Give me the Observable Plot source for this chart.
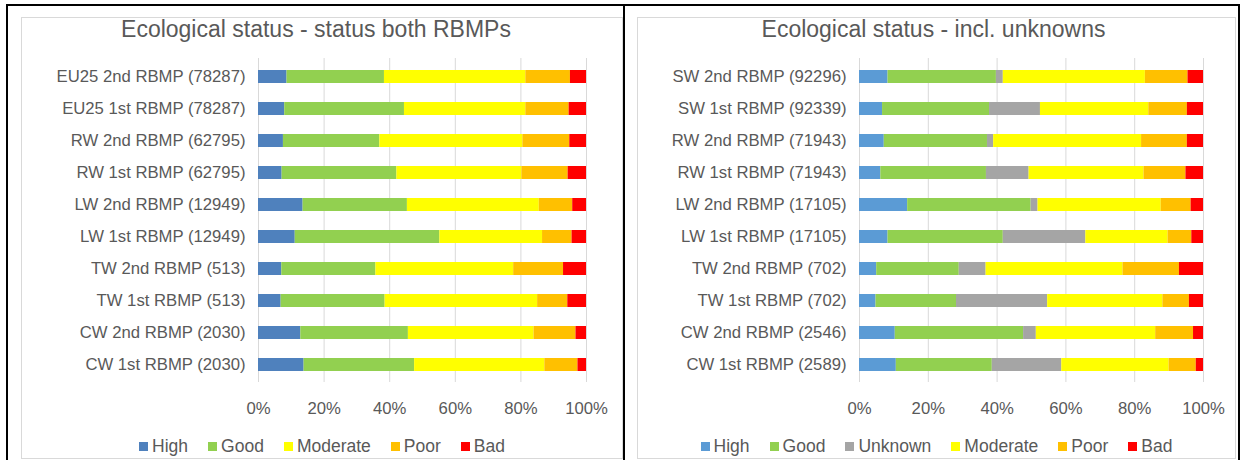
<!DOCTYPE html>
<html>
<head>
<meta charset="utf-8">
<script src="https://cdn.jsdelivr.net/npm/d3@7"></script>
<script src="https://cdn.jsdelivr.net/npm/@observablehq/plot@0.6"></script>
<style>
  html, body { margin: 0; padding: 0; background: #fff; }
  #page { position: relative; width: 1240px; height: 460px; overflow: hidden; font-family: "Liberation Sans", Arial, sans-serif; }
  .bl { position: absolute; background: #000; }
  .panel { position: absolute; border: 1px solid #d9d9d9; box-sizing: border-box; }
  .title { position: absolute; font-size: 23px; color: #595959; text-align: center; white-space: nowrap; }
  .legend { position: absolute; display: flex; justify-content: center; font-size: 17.5px; color: #595959; white-space: nowrap; }
  .legend .it { display: flex; align-items: center; margin: 0 10px; }
  .legend .sw { width: 9px; height: 9px; margin-right: 4px; }
  .chart { position: absolute; }
</style>
</head>
<body>
<div id="page">
  <div class="panel" style="left:21px; top:17px; width:602px; height:442px;"></div>
  <div class="panel" style="left:637px; top:17px; width:599px; height:442px;"></div>
  <div class="bl" style="left:6px; top:4px; width:1234px; height:2px;"></div>
  <div class="bl" style="left:6px; top:4px; width:2px; height:456px;"></div>
  <div class="bl" style="left:623px; top:4px; width:2px; height:456px;"></div>
  <div class="bl" style="left:1238px; top:4px; width:2px; height:456px;"></div>
  <div class="title" style="left:15px; width:602px; top:16px;">Ecological status - status both RBMPs</div>
  <div class="title" style="left:634px; width:599px; top:16px;">Ecological status - incl. unknowns</div>
  <div class="chart" id="left" style="left:0px; top:40px;"></div>
  <div class="chart" id="right" style="left:624px; top:40px;"></div>
  <div class="legend" id="legL" style="left:21px; width:602px; top:436px;"></div>
  <div class="legend" id="legR" style="left:637px; width:599px; top:436px;"></div>
</div>
<script>
// ---- Left chart data ----
const leftCats = ["EU25 2nd RBMP (78287)", "EU25 1st RBMP (78287)", "RW 2nd RBMP (62795)", "RW 1st RBMP (62795)",
  "LW 2nd RBMP (12949)", "LW 1st RBMP (12949)", "TW 2nd RBMP (513)", "TW 1st RBMP (513)",
  "CW 2nd RBMP (2030)", "CW 1st RBMP (2030)"];
const leftHigh     = [8.7, 8.0, 7.6, 7.2, 13.6, 11.2, 7.1, 6.9, 12.9, 13.9];
const leftGood     = [29.7, 36.5, 29.4, 35.0, 31.8, 44.1, 28.7, 31.7, 32.8, 33.7];
const leftModerate = [43.1, 37.0, 43.6, 38.1, 40.2, 31.3, 42.0, 46.5, 38.3, 39.7];
const leftPoor     = [13.6, 13.2, 14.3, 14.1, 10.2, 9.0, 15.2, 9.2, 12.8, 10.1];
const leftBad      = [4.9, 5.3, 5.1, 5.6, 4.2, 4.4, 7.0, 5.7, 3.2, 2.6];
const leftStatuses = ["High", "Good", "Moderate", "Poor", "Bad"];
const leftColors   = ["#4f81bd", "#92d050", "#ffff00", "#ffc000", "#ff0000"];

// ---- Right chart data ----
const rightCats = ["SW 2nd RBMP (92296)", "SW 1st RBMP (92339)", "RW 2nd RBMP (71943)", "RW 1st RBMP (71943)",
  "LW 2nd RBMP (17105)", "LW 1st RBMP (17105)", "TW 2nd RBMP (702)", "TW 1st RBMP (702)",
  "CW 2nd RBMP (2546)", "CW 1st RBMP (2589)"];
const rightHigh     = [8.3, 6.7, 7.2, 6.2, 14.0, 8.3, 5.0, 4.8, 10.4, 10.7];
const rightGood     = [31.5, 31.1, 30.0, 30.7, 35.9, 33.5, 24.0, 23.4, 37.3, 27.9];
const rightUnknown  = [2.0, 14.8, 1.8, 12.4, 2.0, 24.0, 7.8, 26.5, 3.7, 20.2];
const rightModerate = [41.3, 31.5, 43.0, 33.4, 35.8, 23.9, 39.8, 33.5, 34.7, 31.2];
const rightPoor     = [12.4, 11.2, 13.3, 12.2, 8.7, 6.9, 16.4, 7.7, 11.0, 7.9];
const rightBad      = [4.5, 4.7, 4.7, 5.1, 3.6, 3.4, 7.0, 4.1, 2.9, 2.1];
const rightStatuses = ["High", "Good", "Unknown", "Moderate", "Poor", "Bad"];
const rightColors   = ["#5b9bd5", "#92d050", "#a5a5a5", "#ffff00", "#ffc000", "#ff0000"];

const xTicks = [0, 0.2, 0.4, 0.6, 0.8, 1];

function toRows(cats, statuses, series) {
  const rows = [];
  cats.forEach((c, i) => statuses.forEach((s, j) => rows.push({cat: c, status: s, value: series[j][i]})));
  return rows;
}

function makeChart(cats, statuses, colors, series, width, mL, mR) {
  const rows = toRows(cats, statuses, series);
  return Plot.plot({
    width, height: 390,
    marginLeft: mL, marginRight: mR, marginTop: 18, marginBottom: 48,
    style: {fontFamily: "'Liberation Sans', Arial, sans-serif", fontSize: "16.7px", color: "#595959", background: "transparent", overflow: "visible"},
    x: {domain: [0, 1], ticks: xTicks, tickFormat: d3.format(".0%"), tickSize: 0, tickPadding: 20, label: null, fontSize: 18},
    y: {domain: cats, paddingInner: 0.6, paddingOuter: 0.3, tickSize: 0, tickPadding: 13, label: null},
    color: {domain: statuses, range: colors},
    marks: [
      Plot.gridX(xTicks, {stroke: "#d9d9d9", strokeOpacity: 1, strokeWidth: 1}),
      Plot.barX(rows, Plot.stackX({x: "value", y: "cat", fill: "status", order: statuses, offset: "normalize", inset: 0}))
    ]
  });
}

function makeLegend(el, statuses, colors) {
  statuses.forEach((s, i) => {
    const it = document.createElement("div"); it.className = "it";
    const sw = document.createElement("div"); sw.className = "sw"; sw.style.background = colors[i];
    const t = document.createElement("span"); t.textContent = s;
    it.appendChild(sw); it.appendChild(t); el.appendChild(it);
  });
}

document.getElementById("left").appendChild(
  makeChart(leftCats, leftStatuses, leftColors, [leftHigh, leftGood, leftModerate, leftPoor, leftBad], 622, 258, 36));
document.getElementById("right").appendChild(
  makeChart(rightCats, rightStatuses, rightColors, [rightHigh, rightGood, rightUnknown, rightModerate, rightPoor, rightBad], 616, 235, 37));
makeLegend(document.getElementById("legL"), leftStatuses, leftColors);
makeLegend(document.getElementById("legR"), rightStatuses, rightColors);
</script>
</body>
</html>
